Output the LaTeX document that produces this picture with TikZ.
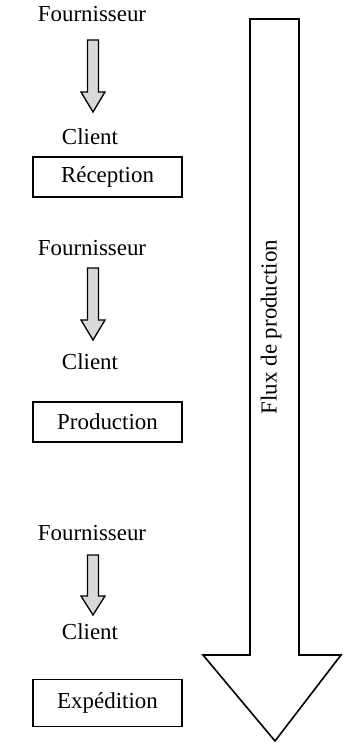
\documentclass[tikz,border=0pt]{standalone}
\usepackage{fontspec}
\setmainfont{Liberation Serif}
\begin{document}
\begin{tikzpicture}[x=1bp,y=-1bp,
  lbl/.style={font=\fontsize{23}{26}\selectfont, inner sep=0pt},
  stagebox/.style={draw, line width=1.6bp, minimum width=149bp, minimum height=40bp, font=\fontsize{23}{26}\selectfont, inner sep=0pt},
  smallarr/.style={draw, line width=1.3bp, fill=gray!30},
  bigarr/.style={draw, line width=1.6bp, fill=white, line join=miter}]
\useasboundingbox (0,0) rectangle (342,743);
% group 1
\node[lbl] (f1) at (92,14) {Fournisseur};
\node[lbl] (c1) at (90,137) {Client};
\node[stagebox] (s1) at (107.5,177) {Réception};
% group 2
\node[lbl] (f2) at (92,248) {Fournisseur};
\node[lbl] (c2) at (90,362) {Client};
\node[stagebox] (s2) at (107.5,422) {Production};
% group 3
\node[lbl] (f3) at (92,533) {Fournisseur};
\node[lbl] (c3) at (90,632) {Client};
\node[stagebox, minimum height=47bp] (s3) at (107.5,703) {Expédition};
% small arrows
\foreach \t/\s/\e in {40/92/112, 268/320/340, 555/596/615}{
  \draw[smallarr] (87.5,\t) -- (98.5,\t) -- (98.5,\s) -- (105,\s) -- (93,\e) -- (81,\s) -- (87.5,\s) -- cycle;
}
% big arrow
\draw[bigarr] (250,19) -- (299,19) -- (299,655) -- (341,655) -- (275,741) -- (203,655) -- (250,655) -- cycle;
\node[lbl, rotate=90] (flux) at (271,327) {Flux de production};
\end{tikzpicture}
\end{document}
